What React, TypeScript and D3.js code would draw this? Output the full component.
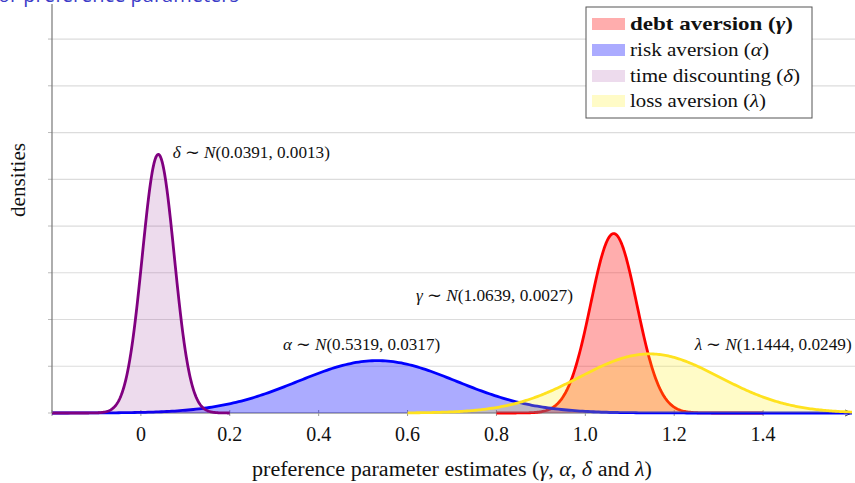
import React from "react";
import * as d3 from "d3";

// Distribution parameters read from the annotations: N(mean, variance)
const seriesKeys = ["gamma", "alpha", "delta", "lambda"];
const seriesNames = ["debt aversion", "risk aversion", "time discounting", "loss aversion"];
const seriesSymbols = ["γ", "α", "δ", "λ"];
const means = [1.0639, 0.5319, 0.0391, 1.1444];
const variances = [0.0027, 0.0317, 0.0013, 0.0249];
const domainStart = [0.8, -0.2, -0.2, 0.6];
const domainEnd = [1.4, 1.6, 0.2, 1.6];
const lineColors = ["#ff0000", "#0000ff", "#800080", "#ffe21f"];
const fillColors = ["#ff0000", "#0000ff", "#800080", "#ffee00"];
const fillOpacities = [0.32, 0.33, 0.14, 0.22];
const xTicks = [-0.2, 0, 0.2, 0.4, 0.6, 0.8, 1.0, 1.2, 1.4];
const xTickLabels = ["", "0", "0.2", "0.4", "0.6", "0.8", "1.0", "1.2", "1.4"];
const yTicks = [0, 2, 4, 6, 8, 10, 12, 14, 16];
// annotation anchor (data units)
const annX = [0.619, 0.320, 0.072, 1.246];
const annY = [4.8, 2.7, 10.9, 2.7];

const W = 855;
const H = 483;
const serif = "'Liberation Serif', 'Times New Roman', serif";

function pdf(x: number, m: number, v: number) {
  return Math.exp(-((x - m) * (x - m)) / (2 * v)) / Math.sqrt(2 * Math.PI * v);
}

export default function App() {
  const x = d3.scaleLinear().domain([-0.2, 1.6]).range([52, 852]);
  const y = d3.scaleLinear().domain([0, 17.5]).range([413, 4]);

  const series = seriesKeys.map((k, i) => {
    const xs = d3.range(0, 301).map((j) => domainStart[i] + ((domainEnd[i] - domainStart[i]) * j) / 300);
    const pts = xs.map((xx) => [xx, pdf(xx, means[i], variances[i])] as [number, number]);
    return { k, i, pts };
  });

  const line = d3
    .line<[number, number]>()
    .x((d) => x(d[0]))
    .y((d) => y(d[1]))
    .curve(d3.curveLinear);
  const area = d3
    .area<[number, number]>()
    .x((d) => x(d[0]))
    .y0(y(0))
    .y1((d) => y(d[1]));

  const legendRows = [30, 56, 82, 107];
  const legendWidths = [163, 139, 170, 136];

  return (
    <svg
      width={W}
      height={H}
      style={{ position: "absolute", left: 0, top: 0, background: "#fff" }}
      fontFamily={serif}
    >
      <rect x={0} y={0} width={W} height={H} fill="#fff" />
      {/* title, cut off at the top edge as in the reference */}
      <text
        x={239}
        y={2}
        textAnchor="end"
        fontFamily="'Open Sans', 'Noto Sans', sans-serif"
        fontSize={20}
        fill="#3c3cc8"
      >
        Estimates for preference parameters
      </text>

      {/* grid */}
      {yTicks.slice(1).map((t) => (
        <line key={"g" + t} x1={52} x2={W} y1={y(t)} y2={y(t)} stroke="#dcdcdc" strokeWidth={1.2} />
      ))}
      {/* y ticks */}
      {yTicks.map((t) => (
        <line key={"yt" + t} x1={48} x2={52} y1={y(t)} y2={y(t)} stroke="#bbb" strokeWidth={1} />
      ))}

      {/* x axis */}
      <line x1={52} x2={850} y1={y(0)} y2={y(0)} stroke="#666" strokeWidth={1} />
      <path d={`M845,${y(0) - 3} L852,${y(0)} L845,${y(0) + 3}`} fill="none" stroke="#444" strokeWidth={1} />
      {xTicks.map((t) => (
        <line key={"xt" + t} x1={x(t)} x2={x(t)} y1={y(0) - 3} y2={y(0) + 3} stroke="#999" strokeWidth={1} />
      ))}
      {xTicks.map((t, i) => (
        <text key={"xl" + t} x={x(t)} y={441} textAnchor="middle" fontSize={20} fill="#111">
          {xTickLabels[i]}
        </text>
      ))}

      {/* series */}
      {series.map((s) => (
        <g key={s.k}>
          <path d={area(s.pts) || ""} fill={fillColors[s.i]} fillOpacity={fillOpacities[s.i]} stroke="none" />
          <path d={line(s.pts) || ""} fill="none" stroke={lineColors[s.i]} strokeWidth={2.8} strokeLinejoin="round" />
        </g>
      ))}

      {/* y axis */}
      <line x1={52} x2={52} y1={4} y2={y(0)} stroke="#777" strokeWidth={1.2} />

      {/* annotations */}
      {series.map((s) => (
        <text
          key={"ann" + s.k}
          x={x(annX[s.i])}
          y={y(annY[s.i])}
          fontSize={16.5}
          fill="#111"
          textLength={157}
          lengthAdjust="spacingAndGlyphs"
        >
          <tspan fontStyle="italic">{seriesSymbols[s.i]}</tspan>
          {" ∼ "}
          <tspan fontStyle="italic">N</tspan>
          {`(${means[s.i].toFixed(4)}, ${variances[s.i].toFixed(4)})`}
        </text>
      ))}

      {/* axis labels */}
      <text x={252} y={476} fontSize={20} fill="#111" textLength={400} lengthAdjust="spacingAndGlyphs">
        preference parameter estimates (<tspan fontStyle="italic">γ</tspan>, <tspan fontStyle="italic">α</tspan>,{" "}
        <tspan fontStyle="italic">δ</tspan> and <tspan fontStyle="italic">λ</tspan>)
      </text>
      <text
        transform="translate(25,180) rotate(-90)"
        textAnchor="middle"
        fontSize={20}
        fill="#111"
        textLength={74}
        lengthAdjust="spacingAndGlyphs"
      >
        densities
      </text>

      {/* legend */}
      <rect x={586} y={7} width={226} height={111} fill="#fff" stroke="#555" strokeWidth={1} />
      {seriesKeys.map((k, i) => (
        <g key={"lg" + k}>
          <rect
            x={592}
            y={legendRows[i] - 12}
            width={33}
            height={12}
            fill={fillColors[i]}
            fillOpacity={fillOpacities[i]}
          />
          <text
            x={630}
            y={legendRows[i]}
            fontSize={19}
            fill="#111"
            fontWeight={i === 0 ? "bold" : "normal"}
            textLength={legendWidths[i]}
            lengthAdjust="spacingAndGlyphs"
          >
            {seriesNames[i]} (<tspan fontStyle="italic">{seriesSymbols[i]}</tspan>)
          </text>
        </g>
      ))}
    </svg>
  );
}
